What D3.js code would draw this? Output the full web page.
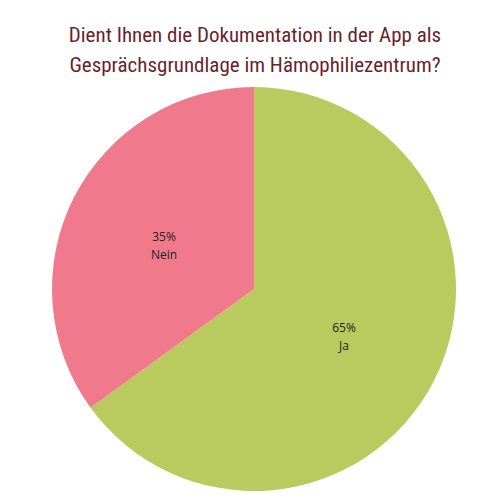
<!DOCTYPE html>
<html><head><meta charset="utf-8">
<script src="https://cdn.jsdelivr.net/npm/d3@7"></script>
<style>body{margin:0;background:#fff}</style>
</head><body>
<script>
var labels = ["Ja", "Nein"];
var values = [65, 35];
var colors = ["#b9cb5e", "#f07a8c"];
var titleLines = ["Dient Ihnen die Dokumentation in der App als", "Gesprächsgrundlage im Hämophiliezentrum?"];

var svg = d3.select("body").append("svg").attr("width", 500).attr("height", 500);

svg.selectAll("text.title").data(titleLines).enter().append("text")
  .attr("class", "title")
  .attr("x", 255).attr("y", function(d, i) { return 42 + i * 30; })
  .attr("text-anchor", "middle")
  .style("font-family", "Roboto, sans-serif").style("font-size", "21px")
  .style("fill", "#6b1f2a").style("font-stretch", "condensed")
  .text(function(d) { return d; });

var R = 202;
var g = svg.append("g").attr("transform", "translate(254,289)");
var pie = d3.pie().sort(null);
var arc = d3.arc().innerRadius(0).outerRadius(R);
var labelArc = d3.arc().innerRadius(R * 0.5).outerRadius(R * 0.5);
var arcs = pie(values);

g.selectAll("path").data(arcs).enter().append("path")
  .attr("d", arc).attr("fill", function(d, i) { return colors[i]; });

var lab = g.selectAll("text").data(arcs).enter().append("text")
  .attr("transform", function(d) { return "translate(" + labelArc.centroid(d) + ")"; })
  .attr("text-anchor", "middle")
  .style("font-family", "'Open Sans', sans-serif").style("font-size", "12px").style("fill", "#222");
lab.append("tspan").attr("x", 0).attr("dy", "-0.2em").text(function(d) { return d.value + "%"; });
lab.append("tspan").attr("x", 0).attr("dy", "1.5em").text(function(d, i) { return labels[i]; });
</script>
</body></html>
